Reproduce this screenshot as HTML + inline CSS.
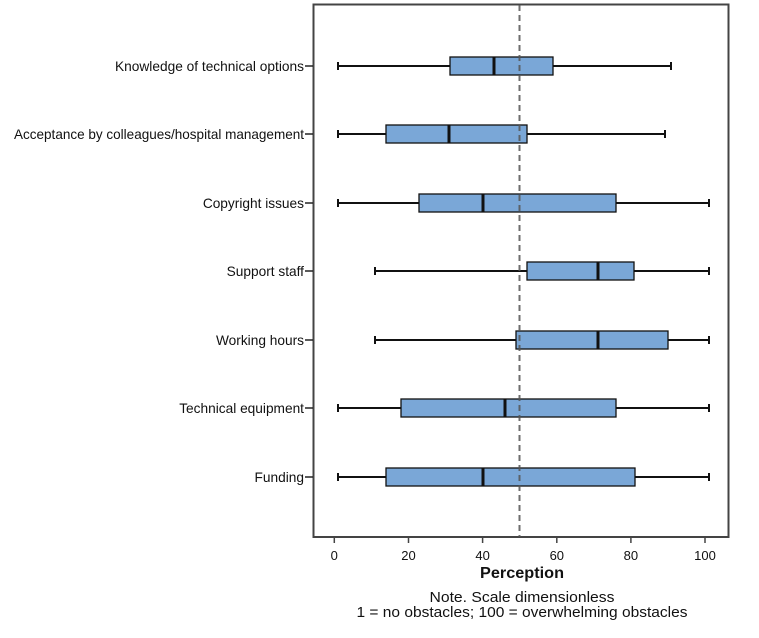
<!DOCTYPE html>
<html><head><meta charset="utf-8"><style>
html,body{margin:0;padding:0;background:#fff;}
svg{display:block;font-family:"Liberation Sans",Arial,sans-serif;}
</style></head><body>
<svg width="759" height="638" viewBox="0 0 759 638" xmlns="http://www.w3.org/2000/svg">
<rect x="313.5" y="4.5" width="415" height="532.5" fill="#fff" stroke="#444" stroke-width="2"/>
<g stroke="#444" stroke-width="1.5">
<line x1="334.3" y1="537" x2="334.3" y2="543"/>
<line x1="408.5" y1="537" x2="408.5" y2="543"/>
<line x1="482.6" y1="537" x2="482.6" y2="543"/>
<line x1="556.8" y1="537" x2="556.8" y2="543"/>
<line x1="630.9" y1="537" x2="630.9" y2="543"/>
<line x1="705" y1="537" x2="705" y2="543"/>
</g>
<g font-size="13" fill="#111" text-anchor="middle">
<text x="334.3" y="560">0</text><text x="408.5" y="560">20</text><text x="482.6" y="560">40</text>
<text x="556.8" y="560">60</text><text x="630.9" y="560">80</text><text x="705" y="560">100</text>
</g>
<text x="522" y="578" font-size="15.5" font-weight="bold" text-anchor="middle" fill="#111" textLength="84" lengthAdjust="spacingAndGlyphs">Perception</text>
<text x="522" y="602" font-size="15" text-anchor="middle" fill="#111" textLength="185" lengthAdjust="spacingAndGlyphs">Note. Scale dimensionless</text>
<text x="522" y="617" font-size="15" text-anchor="middle" fill="#111" textLength="331" lengthAdjust="spacingAndGlyphs">1 = no obstacles; 100 = overwhelming obstacles</text>
<g font-size="13.7" fill="#111" text-anchor="end">
<text x="304" y="71" textLength="189" lengthAdjust="spacingAndGlyphs">Knowledge of technical options</text>
<text x="304" y="139" textLength="290" lengthAdjust="spacingAndGlyphs">Acceptance by colleagues/hospital management</text>
<text x="304" y="208">Copyright issues</text>
<text x="304" y="276">Support staff</text>
<text x="304" y="345">Working hours</text>
<text x="304" y="413">Technical equipment</text>
<text x="304" y="482">Funding</text>
</g>
<g stroke="#222" stroke-width="1.5">
<line x1="305" y1="66" x2="313" y2="66"/><line x1="305" y1="134" x2="313" y2="134"/>
<line x1="305" y1="203" x2="313" y2="203"/><line x1="305" y1="271" x2="313" y2="271"/>
<line x1="305" y1="340" x2="313" y2="340"/><line x1="305" y1="408" x2="313" y2="408"/>
<line x1="305" y1="477" x2="313" y2="477"/>
</g>
<g stroke="#111" stroke-width="2">
<line x1="338" y1="66" x2="671" y2="66"/><line x1="338" y1="62" x2="338" y2="70"/><line x1="671" y1="62" x2="671" y2="70"/>
<rect x="450" y="57" width="103" height="18" fill="#7aa7d7" stroke-width="1.3"/><line x1="494" y1="57" x2="494" y2="75" stroke-width="3"/>

<line x1="338" y1="134" x2="665" y2="134"/><line x1="338" y1="130" x2="338" y2="138"/><line x1="665" y1="130" x2="665" y2="138"/>
<rect x="386" y="125" width="141" height="18" fill="#7aa7d7" stroke-width="1.3"/><line x1="449" y1="125" x2="449" y2="143" stroke-width="3"/>

<line x1="338" y1="203" x2="709" y2="203"/><line x1="338" y1="199" x2="338" y2="207"/><line x1="709" y1="199" x2="709" y2="207"/>
<rect x="419" y="194" width="197" height="18" fill="#7aa7d7" stroke-width="1.3"/><line x1="483" y1="194" x2="483" y2="212" stroke-width="3"/>

<line x1="375" y1="271" x2="709" y2="271"/><line x1="375" y1="267" x2="375" y2="275"/><line x1="709" y1="267" x2="709" y2="275"/>
<rect x="527" y="262" width="107" height="18" fill="#7aa7d7" stroke-width="1.3"/><line x1="598" y1="262" x2="598" y2="280" stroke-width="3"/>

<line x1="375" y1="340" x2="709" y2="340"/><line x1="375" y1="336" x2="375" y2="344"/><line x1="709" y1="336" x2="709" y2="344"/>
<rect x="516" y="331" width="152" height="18" fill="#7aa7d7" stroke-width="1.3"/><line x1="598" y1="331" x2="598" y2="349" stroke-width="3"/>

<line x1="338" y1="408" x2="709" y2="408"/><line x1="338" y1="404" x2="338" y2="412"/><line x1="709" y1="404" x2="709" y2="412"/>
<rect x="401" y="399" width="215" height="18" fill="#7aa7d7" stroke-width="1.3"/><line x1="505" y1="399" x2="505" y2="417" stroke-width="3"/>

<line x1="338" y1="477" x2="709" y2="477"/><line x1="338" y1="473" x2="338" y2="481"/><line x1="709" y1="473" x2="709" y2="481"/>
<rect x="386" y="468" width="249" height="18" fill="#7aa7d7" stroke-width="1.3"/><line x1="483" y1="468" x2="483" y2="486" stroke-width="3"/>
</g>
<line x1="519.5" y1="5" x2="519.5" y2="537" stroke="#555" stroke-width="2" stroke-dasharray="6,4" opacity="0.85"/>
</svg>
</body></html>
